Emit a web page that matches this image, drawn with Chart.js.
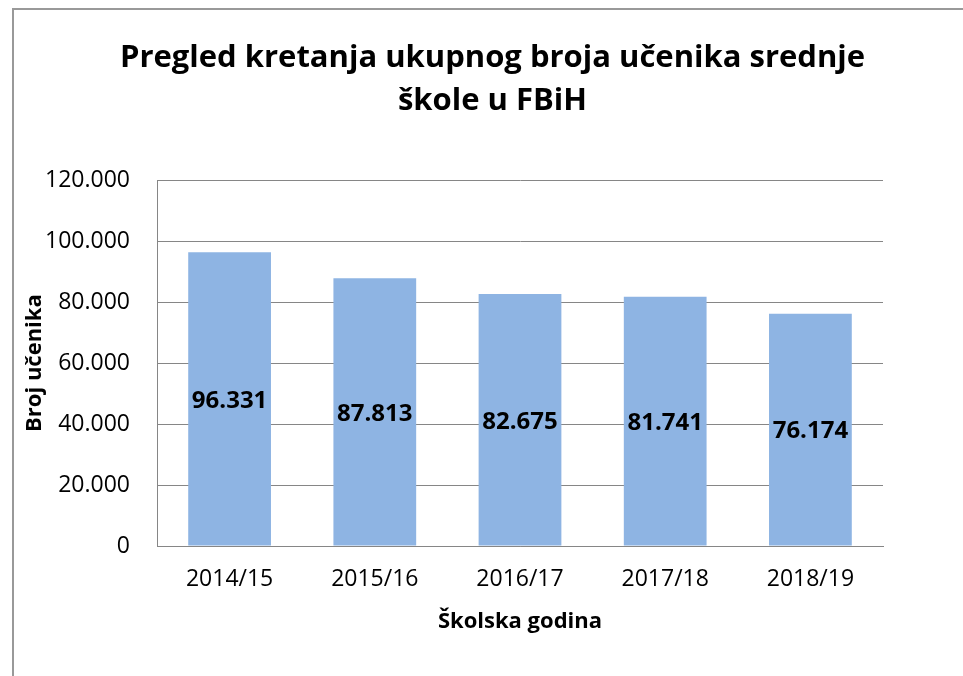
<!DOCTYPE html>
<html>
<head>
<meta charset="utf-8">
<script src="https://cdn.jsdelivr.net/npm/chart.js@4"></script>
<style>
    html, body { margin: 0; padding: 0; background: #fff; overflow: hidden; }
    #frame {
        position: absolute; left: 12px; top: 8px; width: 2000px; height: 2000px;
        border-left: 2px solid #999; border-top: 2px solid #999;
    }
    #wrap { position: absolute; left: 0; top: 0; width: 963px; height: 676px; }
</style>
</head>
<body>
<div id="frame"></div>
<div id="wrap"><canvas id="chart"></canvas></div>
<script>
const years = ["2014/15", "2015/16", "2016/17", "2017/18", "2018/19"];
const students = [96331, 87813, 82675, 81741, 76174];
const yTicks = [0, 20000, 40000, 60000, 80000, 100000, 120000];

const FONT = "'Open Sans', sans-serif";

// thousands separator with a dot, as in the original
function fmt(v) {
    return String(v).replace(/\B(?=(\d{3})+(?!\d))/g, ".");
}

// value labels in the middle of each bar
const barLabels = {
    id: "barLabels",
    afterDatasetsDraw(chart) {
        const ctx = chart.ctx;
        const meta = chart.getDatasetMeta(0);
        ctx.save();
        ctx.font = "bold 24px " + FONT;
        ctx.fillStyle = "#000";
        ctx.textAlign = "center";
        ctx.textBaseline = "middle";
        meta.data.forEach(function (bar, i) {
            const p = bar.getProps(["x", "y", "base"], true);
            ctx.fillText(fmt(students[i]), p.x, (p.y + p.base) / 2 + 2);
        });
        ctx.restore();
    }
};

new Chart(document.getElementById("chart"), {
    type: "bar",
    data: {
        labels: years,
        datasets: [{
            data: students,
            backgroundColor: "#8EB4E3",
            borderWidth: 0,
            barPercentage: 0.57,
            categoryPercentage: 1,
            yAxisID: "y"
        }]
    },
    options: {
        responsive: true,
        maintainAspectRatio: false,
        animation: false,
        layout: { padding: { left: 22, right: 0, top: 0, bottom: 0 } },
        plugins: {
            legend: { display: false },
            tooltip: { enabled: false },
            title: {
                display: true,
                text: ["Pregled kretanja ukupnog broja učenika srednje", "škole u FBiH"],
                color: "#000",
                font: { family: FONT, size: 31, weight: "bold", lineHeight: 1.39 },
                padding: { top: 37, bottom: 57 }
            }
        },
        scales: {
            y: {
                min: 0,
                max: 120000,
                afterBuildTicks(scale) {
                    scale.ticks = yTicks.map(v => ({ value: v }));
                },
                afterFit(scale) { scale.width = 135; },
                grid: { color: "#868686", lineWidth: 1, drawTicks: false },
                border: { display: true, color: "#868686", width: 1 },
                ticks: {
                    color: "#000",
                    padding: 27,
                    font: { family: FONT, size: 23 },
                    callback: v => fmt(v)
                },
                title: {
                    display: true,
                    text: "Broj učenika",
                    color: "#000",
                    font: { family: FONT, size: 22, weight: "bold", lineHeight: 1.2 },
                    padding: { top: 0, bottom: 0 }
                }
            },
            r: {
                type: "linear",
                position: "right",
                display: true,
                afterFit(scale) { scale.width = 80; },
                grid: { display: false },
                border: { display: false },
                ticks: { display: false }
            },
            x: {
                afterFit(scale) { scale.height = 130; },
                grid: { display: false },
                border: { display: true, color: "#868686", width: 1 },
                ticks: {
                    color: "#000",
                    padding: 12,
                    font: { family: FONT, size: 23 }
                },
                title: {
                    display: true,
                    text: "Školska godina",
                    color: "#000",
                    font: { family: FONT, size: 22, weight: "bold", lineHeight: 1.2 },
                    padding: { top: 0, bottom: 41 }
                }
            }
        }
    },
    plugins: [barLabels]
});
</script>
</body>
</html>
